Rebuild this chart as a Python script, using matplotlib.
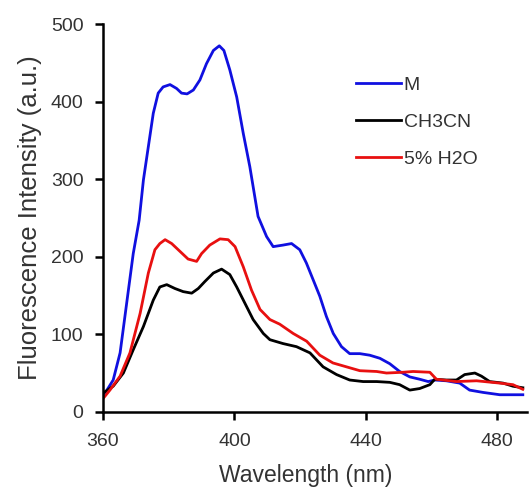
import matplotlib
matplotlib.use("Agg")
import matplotlib.pyplot as plt

# wavelength (nm) / intensity (a.u.)
wl_m = [360, 360.6, 363.1, 365.2, 367.2, 369.2, 371, 372.3, 373.8, 375.3,
        376.8, 378.3, 380.4, 382.4, 383.9, 385.6, 387.5, 389.5, 391.5,
        393.6, 395.4, 396.8, 398.6, 400.7, 402.7, 404.7, 407.2, 409.8,
        411.8, 414.8, 417.4, 419.9, 421.9, 424, 426, 428, 430.1, 432.6,
        435.1, 438.2, 441.2, 444.3, 447.3, 450.3, 453.4, 456.4, 459, 461,
        464.5, 468.6, 471.6, 475.7, 480.8, 487.8]
int_m = [20, 24, 41, 76, 140, 204, 247, 299, 342, 385,
         411, 419, 422, 417, 411, 410, 415, 428, 449,
         466, 472, 466, 441, 406, 359, 316, 252, 226,
         213, 215, 217, 209, 192, 170, 149, 123, 101, 84,
         75, 75, 73, 69, 62, 52, 45, 42, 39, 41,
         40, 37, 28, 25, 22, 22]

wl_ch3cn = [360, 363.1, 366.2, 369.2, 372.3, 375.3, 377.3, 379.4, 381.9,
            384.4, 387, 389, 391, 393.6, 396.1, 398.6, 400.7, 403.2, 405.7,
            408.8, 410.8, 414.8, 418.9, 423, 427, 431.1, 435.1, 439.2,
            443.3, 447.3, 450.3, 453.4, 456.4, 459.5, 461, 464.5, 467.6,
            470.1, 473.2, 475.2, 477.7, 481.8, 484.8, 487.8]
int_ch3cn = [24, 33, 50, 80, 110, 144, 161, 164, 159,
             155, 153, 159, 168, 179, 184, 177, 161, 140, 119,
             101, 93, 88, 84, 76, 58, 48, 41, 39,
             39, 38, 35, 28, 30, 35, 42, 41, 41,
             48, 50, 46, 39, 37, 33, 31]

wl_h2o = [360, 362.1, 365.2, 368.2, 371.3, 373.8, 375.8, 377.3, 378.9,
          380.9, 383.4, 385.9, 388.5, 390, 392.5, 395.6, 398.1, 400.2,
          402.7, 405.2, 407.8, 410.8, 413.8, 417.9, 422, 426, 430, 434.1,
          438.2, 443.3, 446.3, 451.3, 454.4, 459.5, 461.5, 467.6, 473.7,
          480.8, 484.8, 487.8]
int_h2o = [17, 28, 46, 76, 127, 179, 209, 217, 222,
           217, 207, 197, 194, 204, 215, 223, 222, 213,
           187, 157, 132, 119, 113, 101, 91, 73, 63, 58,
           53, 52, 50, 51, 52, 51, 42, 39, 40,
           37, 35, 29]

plt.rcParams["font.family"] = ["Liberation Sans", "DejaVu Sans"]
text_color = "#333333"

fig = plt.figure(figsize=(5.31, 4.92), dpi=100)
ax = fig.add_axes([0.194, 0.163, 0.798, 0.788])

ax.plot(wl_m, int_m, color="#1010e0", lw=2.0, label="M")
ax.plot(wl_ch3cn, int_ch3cn, color="black", lw=2.0, label="CH3CN")
ax.plot(wl_h2o, int_h2o, color="#e81010", lw=2.0, label="5% H2O")

ax.set_xlim(360, 489)
ax.set_ylim(0, 500)
ax.set_xticks([360, 400, 440, 480])
ax.set_yticks([0, 100, 200, 300, 400, 500])

for side in ("top", "right"):
    ax.spines[side].set_visible(False)
for side in ("left", "bottom"):
    ax.spines[side].set_linewidth(1.8)
ax.tick_params(direction="out", length=6, width=1.8, labelsize=14,
               labelcolor=text_color)
ax.tick_params(axis="y", pad=8)
ax.tick_params(axis="x", pad=9)

ax.set_xlabel("Wavelength (nm)", fontsize=16.5, color=text_color, labelpad=10,
              x=0.479)
ax.set_ylabel("Fluorescence Intensity (a.u.)", fontsize=18.5, color=text_color,
              labelpad=6)

leg = ax.legend(loc="upper left", bbox_to_anchor=(0.556, 0.91), frameon=False,
                fontsize=14, handlelength=2.3, handletextpad=0.15,
                labelspacing=1.0)
for t in leg.get_texts():
    t.set_color(text_color)

fig.savefig("out.png", dpi=100)
